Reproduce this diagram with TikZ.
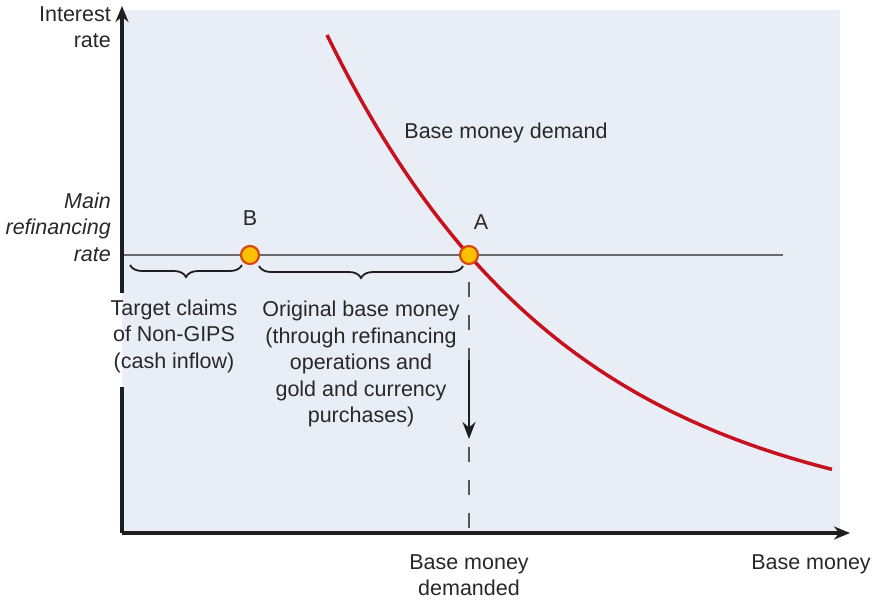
\documentclass[tikz,border=0pt]{standalone}
\usepackage{fontspec}
\setmainfont{Liberation Sans}
\usetikzlibrary{arrows.meta,decorations.pathreplacing}
\definecolor{panel}{RGB}{233,237,245}
\definecolor{textc}{RGB}{40,40,42}
\definecolor{axisc}{RGB}{30,30,32}
\definecolor{dashc}{RGB}{85,85,90}
\definecolor{ratec}{RGB}{105,105,110}
\definecolor{demandc}{RGB}{198,18,30}
\definecolor{dotfill}{RGB}{255,192,0}
\definecolor{dotdraw}{RGB}{212,72,20}
\tikzset{
  txt/.style={font=\fontsize{21.5}{26.5}\selectfont, text=textc, inner sep=0pt, align=center},
  axisline/.style={draw=axisc, line width=3.2pt, -{Stealth[length=16pt,width=13pt]}},
  rateline/.style={draw=ratec, line width=2pt},
  demandline/.style={draw=demandc, line width=3.5pt},
  dashline/.style={draw=dashc, line width=1.5pt, dash pattern=on 15pt off 18pt},
  downarrow/.style={draw=axisc, line width=2.4pt, -{Stealth[length=17pt,width=13pt]}},
  dot/.style={circle, minimum size=18pt, inner sep=0pt, fill=dotfill, draw=dotdraw, line width=2.2pt},
  bracestyle/.style={draw=axisc, line width=1.8pt, decorate, decoration={brace, mirror, amplitude=12pt}}
}
\begin{document}
\begin{tikzpicture}[x=1pt,y=-1pt]
\useasboundingbox (0,0) rectangle (874,601);
\fill[panel] (122,10) rectangle (840,533);

% axes
\coordinate (O) at (122,533);
\coordinate (ytop) at (122,6);
\coordinate (gapLow) at (122,387);
\coordinate (gapHigh) at (122,293);
\coordinate (xend) at (850,533);
\coordinate (R0) at (122,255);
\coordinate (R1) at (783,255);

\draw[rateline] (R0) -- (R1);

% demand curve
\draw[demandline] plot[domain=327:832, samples=100] (\x, {35+495.8*(1-exp(-0.00413*(\x-327)))});

% points
\node[dot] (B) at (250,255) {};
\node[dot] (A) at (469,255) {};

% dashed drop line and arrow
\coordinate (Atop) at (469,282);
\coordinate (Abot) at (469,533);
\coordinate (arrS) at (469,360);
\coordinate (arrE) at (469,439);
\draw[dashline] (Atop) -- (Abot);
\draw[downarrow] (arrS) -- (arrE);

\draw[axisline] (O) -- (gapLow) (gapHigh) -- (ytop);
\draw[axisline] (O) -- (xend);

% braces
\coordinate (b1l) at (130,265);
\coordinate (b1r) at (242,265);
\coordinate (b2l) at (259,266);
\coordinate (b2r) at (463,266);
\draw[bracestyle] (b1l) -- (b1r);
\draw[bracestyle] (b2l) -- (b2r);

% labels
\node[txt, align=right, anchor=east] (ylab) at (111,27) {Interest\\rate};
\node[txt, align=right, anchor=east, font=\fontsize{21.5}{26.5}\selectfont\itshape] (mrr) at (111,227) {Main\\refinancing\\rate};
\node[txt] (labB) at (250,218) {B};
\node[txt] (labA) at (481,222) {A};
\node[txt] (bmd) at (506,133) {Base money demand};
\node[txt] (tc) at (174,336) {Target claims\\of Non-GIPS\\(cash inflow)};
\node[txt] (obm) at (361,364) {Original base money\\(through refinancing\\operations and\\gold and currency\\purchases)};
\node[txt] (bmdd) at (469,575) {Base money\\demanded};
\node[txt] (xlab) at (811,564) {Base money};
\end{tikzpicture}
\end{document}
